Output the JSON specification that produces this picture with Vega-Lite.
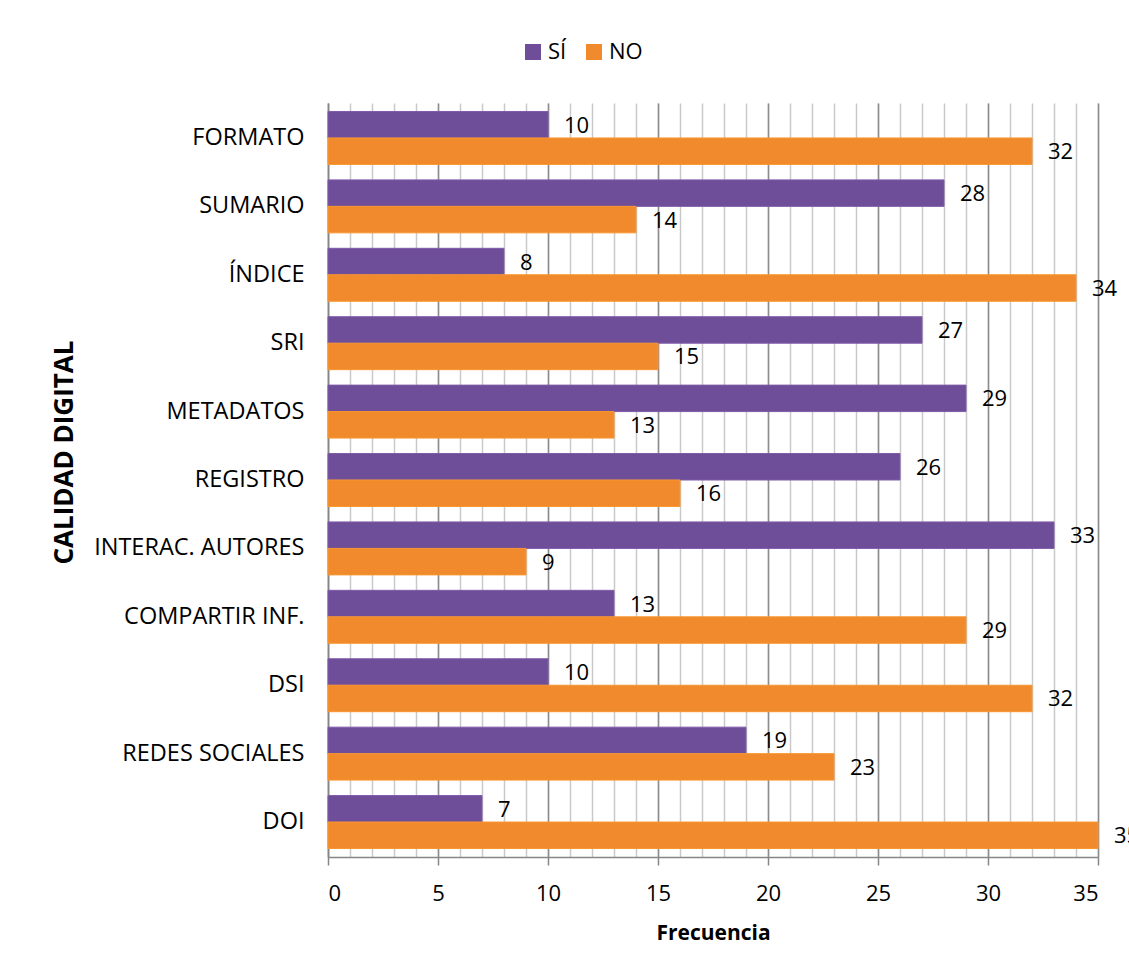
{
  "$schema": "https://vega.github.io/schema/vega-lite/v6.json",
  "autosize": {"type": "none"},
  "width": 770,
  "height": 754,
  "padding": {"left": 328, "top": 103, "right": 31, "bottom": 114},
  "background": "white",
  "config": {
    "font": "Open Sans",
    "view": {"stroke": null},
    "axis": {"labelFont": "Open Sans", "titleFont": "Open Sans", "labelColor": "#000000", "titleColor": "#000000"}
  },
  "data": {
    "values": [
      {"categoria": "FORMATO", "respuesta": "SÍ", "frecuencia": 10},
      {"categoria": "FORMATO", "respuesta": "NO", "frecuencia": 32},
      {"categoria": "SUMARIO", "respuesta": "SÍ", "frecuencia": 28},
      {"categoria": "SUMARIO", "respuesta": "NO", "frecuencia": 14},
      {"categoria": "ÍNDICE", "respuesta": "SÍ", "frecuencia": 8},
      {"categoria": "ÍNDICE", "respuesta": "NO", "frecuencia": 34},
      {"categoria": "SRI", "respuesta": "SÍ", "frecuencia": 27},
      {"categoria": "SRI", "respuesta": "NO", "frecuencia": 15},
      {"categoria": "METADATOS", "respuesta": "SÍ", "frecuencia": 29},
      {"categoria": "METADATOS", "respuesta": "NO", "frecuencia": 13},
      {"categoria": "REGISTRO", "respuesta": "SÍ", "frecuencia": 26},
      {"categoria": "REGISTRO", "respuesta": "NO", "frecuencia": 16},
      {"categoria": "INTERAC. AUTORES", "respuesta": "SÍ", "frecuencia": 33},
      {"categoria": "INTERAC. AUTORES", "respuesta": "NO", "frecuencia": 9},
      {"categoria": "COMPARTIR INF.", "respuesta": "SÍ", "frecuencia": 13},
      {"categoria": "COMPARTIR INF.", "respuesta": "NO", "frecuencia": 29},
      {"categoria": "DSI", "respuesta": "SÍ", "frecuencia": 10},
      {"categoria": "DSI", "respuesta": "NO", "frecuencia": 32},
      {"categoria": "REDES SOCIALES", "respuesta": "SÍ", "frecuencia": 19},
      {"categoria": "REDES SOCIALES", "respuesta": "NO", "frecuencia": 23},
      {"categoria": "DOI", "respuesta": "SÍ", "frecuencia": 7},
      {"categoria": "DOI", "respuesta": "NO", "frecuencia": 35}
    ]
  },
  "encoding": {
    "y": {
      "field": "categoria",
      "type": "nominal",
      "sort": ["FORMATO", "SUMARIO", "ÍNDICE", "SRI", "METADATOS", "REGISTRO", "INTERAC. AUTORES", "COMPARTIR INF.", "DSI", "REDES SOCIALES", "DOI"],
      "scale": {"paddingInner": 0.226, "paddingOuter": 0.124},
      "axis": {
        "title": "CALIDAD DIGITAL",
        "titleFontSize": 26,
        "titleFontWeight": "bold",
        "titleAngle": 270,
        "titleX": -264,
        "titleY": 349,
        "titleAlign": "center",
        "titleBaseline": "middle",
        "labelFontSize": 23.5,
        "labelPadding": 24,
        "labelLimit": 400,
        "ticks": false,
        "domain": true,
        "domainColor": "#868686",
        "domainWidth": 1.5,
        "grid": false
      }
    },
    "yOffset": {
      "field": "respuesta",
      "type": "nominal",
      "sort": ["SÍ", "NO"],
      "scale": {"paddingInner": 0, "paddingOuter": 0}
    }
  },
  "resolve": {"axis": {"x": "independent"}},
  "layer": [
    {
      "mark": {"type": "bar", "strokeWidth": 1},
      "encoding": {
        "x": {
          "field": "frecuencia",
          "type": "quantitative",
          "scale": {"domain": [0, 35], "nice": false},
          "axis": {
            "orient": "bottom",
            "values": [0,1,2,3,4,5,6,7,8,9,10,11,12,13,14,15,16,17,18,19,20,21,22,23,24,25,26,27,28,29,30,31,32,33,34,35],
            "labels": false,
            "ticks": false,
            "domain": false,
            "title": null,
            "grid": true,
            "gridColor": "#c9c9c9",
            "gridWidth": 1.5
          }
        },
        "color": {
          "field": "respuesta",
          "type": "nominal",
          "sort": ["SÍ", "NO"],
          "scale": {"domain": ["SÍ", "NO"], "range": ["#6E4E98", "#F08A2C"]},
          "legend": {
            "title": null,
            "orient": "none",
            "legendX": 194,
            "legendY": -62,
            "direction": "horizontal",
            "symbolType": "square",
            "symbolSize": 256,
            "symbolStrokeWidth": 0,
            "labelFontSize": 22,
            "labelFont": "Open Sans",
            "labelColor": "#000000",
            "labelOffset": 4,
            "columnPadding": 16
          }
        },
        "stroke": {
          "field": "respuesta",
          "type": "nominal",
          "scale": {"domain": ["SÍ", "NO"], "range": ["#7F5AAA", "#F9962F"]},
          "legend": null
        }
      }
    },
    {
      "mark": {"type": "text", "align": "left", "baseline": "middle", "dx": 16, "dy": 1, "fontSize": 22, "font": "Open Sans", "color": "#000000"},
      "encoding": {
        "x": {
          "field": "frecuencia",
          "type": "quantitative",
          "axis": {
            "orient": "bottom",
            "values": [0, 5, 10, 15, 20, 25, 30, 35],
            "title": "Frecuencia",
            "titleFontSize": 21,
            "titleFontWeight": "bold",
            "titleY": 76,
            "titleBaseline": "middle",
            "labelFontSize": 22,
            "labelPadding": 18,
            "tickSize": 8,
            "tickColor": "#868686",
            "tickWidth": 1.5,
            "domainColor": "#868686",
            "domainWidth": 1.5,
            "grid": true,
            "gridColor": "#8c8c8c",
            "gridWidth": 1.5
          }
        },
        "text": {"field": "frecuencia", "type": "quantitative"}
      }
    }
  ]
}
